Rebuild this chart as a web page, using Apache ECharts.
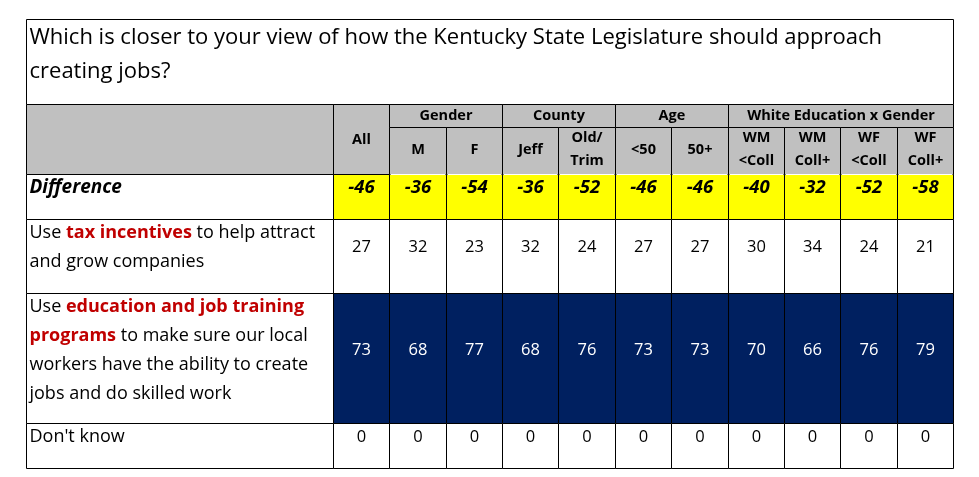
<!DOCTYPE html>
<html><head><meta charset="utf-8">
<script src="https://cdn.jsdelivr.net/npm/echarts@6/dist/echarts.min.js"></script>
<style>html,body{margin:0;padding:0;background:#fff}#c{width:979px;height:477px}</style>
</head><body><div id="c"></div>
<script>
// ---- data ----
const titleText = 'Which is closer to your view of how the Kentucky State Legislature should approach\ncreating jobs?';
const groups = ['Gender', 'County', 'Age', 'White Education x Gender'];
const groupSpans = [[1, 2], [3, 4], [5, 6], [7, 10]];
const columns = ['All', 'M', 'F', 'Jeff', 'Old/\nTrim', '<50', '50+', 'WM\n<Coll', 'WM\nColl+', 'WF\n<Coll', 'WF\nColl+'];
const rowLabels = [
  'Difference',
  'Use {r|tax incentives} to help attract\nand grow companies',
  'Use {r|education and job training}\n{r|programs} to make sure our local\nworkers have the ability to create\njobs and do skilled work',
  "Don't know"
];
const difference = [-46, -36, -54, -36, -52, -46, -46, -40, -32, -52, -58];
const taxIncentives = [27, 32, 23, 32, 24, 27, 27, 30, 34, 24, 21];
const educationTraining = [73, 68, 77, 68, 76, 73, 73, 70, 66, 76, 79];
const dontKnow = [0, 0, 0, 0, 0, 0, 0, 0, 0, 0, 0];

// ---- layout ----
const FONT = 'Open Sans';
const labelColUnits = 5.447;           // width of label column in data-column units
const rowHeights = [85, 23, 47, 45, 74, 130, 45];
const edges = [0]; rowHeights.forEach(h => edges.push(edges[edges.length - 1] + h));
const nCols = columns.length;
const LINE = 29;
const LABEL_SIZE = 18;

const bodyRows = [
  {label: rowLabels[0], values: difference, fill: '#FFFF00', color: '#000', bold: true, italic: true, lines: 1, size: 19, valueSize: 18.5},
  {label: rowLabels[1], values: taxIncentives, fill: '#FFFFFF', color: '#000', lines: 2},
  {label: rowLabels[2], values: educationTraining, fill: '#002060', color: '#FFFFFF', lines: 4},
  {label: rowLabels[3], values: dontKnow, fill: '#FFFFFF', color: '#000', lines: 1}
];

const cells = [];
cells.push({v: [-labelColUnits, edges[0], nCols, edges[1]], fill: '#fff', text: titleText, kind: 'title'});
cells.push({v: [-labelColUnits, edges[1], 0, edges[3]], fill: '#C0C0C0', text: ''});
cells.push({v: [0, edges[1], 1, edges[3]], fill: '#C0C0C0', text: columns[0], kind: 'head'});
groups.forEach((g, i) => {
  cells.push({v: [groupSpans[i][0], edges[1], groupSpans[i][1] + 1, edges[2]], fill: '#C0C0C0', text: g, kind: 'head'});
});
for (let c = 1; c < nCols; c++) {
  cells.push({v: [c, edges[2], c + 1, edges[3]], fill: '#C0C0C0', text: columns[c], kind: 'sub'});
}
bodyRows.forEach((r, i) => {
  const y0 = edges[3 + i], y1 = edges[4 + i];
  cells.push({v: [-labelColUnits, y0, 0, y1], fill: '#fff', text: r.label, kind: 'label', row: r});
  r.values.forEach((val, c) => {
    cells.push({v: [c, y0, c + 1, y1], fill: r.fill, text: String(val), kind: 'value', row: r});
  });
});

function renderItem(params, api) {
  const cell = cells[params.dataIndex];
  const p0 = api.coord([api.value(0), api.value(1)]);
  const p1 = api.coord([api.value(2), api.value(3)]);
  const x = Math.round(p0[0]) + 0.5, y = Math.round(p0[1]) + 0.5;
  const w = Math.round(p1[0]) - Math.round(p0[0]), h = Math.round(p1[1]) - Math.round(p0[1]);
  const children = [{
    type: 'rect', shape: {x, y, width: w, height: h},
    style: {fill: cell.fill, stroke: '#000', lineWidth: 1}
  }];
  let ts = null;
  if (cell.kind === 'title') {
    ts = {text: cell.text, x: x + 3, y: y + 1, align: 'left', verticalAlign: 'top',
      fontSize: 22, fontFamily: FONT, fill: '#000', lineHeight: 34};
  } else if (cell.kind === 'head') {
    ts = {text: cell.text, x: x + w / 2, y: y + (cell.text === 'All' ? 35 : 11.5), align: 'center', verticalAlign: 'middle',
      fontSize: 14.5, fontWeight: 'bold', fontFamily: FONT, fill: '#000', lineHeight: 23};
  } else if (cell.kind === 'sub') {
    ts = {text: cell.text, x: x + w / 2, y: y + 22, align: 'center', verticalAlign: 'middle',
      fontSize: 14.5, fontWeight: 'bold', fontFamily: FONT, fill: '#000', lineHeight: 23};
    children.push({type: 'line', z2: 50, shape: {x1: x + 1, y1: y + h, x2: x + w - 1, y2: y + h},
      style: {stroke: '#FFFFFF', lineWidth: 1}});
  } else if (cell.kind === 'label') {
    const r = cell.row;
    const fs = r.size || LABEL_SIZE;
    ts = {text: cell.text, x: x + 3, y: y - 1, align: 'left', verticalAlign: 'top',
      fontSize: fs, fontFamily: FONT, fill: '#000', lineHeight: LINE,
      fontWeight: r.bold ? 'bold' : 'normal', fontStyle: r.italic ? 'italic' : 'normal',
      rich: {r: {fontSize: fs, fontFamily: FONT, fontWeight: 'bold', fill: '#C00000', color: '#C00000', lineHeight: LINE}}};
  } else if (cell.kind === 'value') {
    const r = cell.row;
    ts = {text: cell.text, x: x + w / 2, y: y + 13.5 + (r.lines - 1) * LINE / 2, align: 'center', verticalAlign: 'middle',
      fontSize: r.valueSize || 16.5, fontFamily: FONT, fill: r.color,
      fontWeight: r.bold ? 'bold' : 'normal', fontStyle: r.italic ? 'italic' : 'normal'};
  }
  if (ts && ts.text) children.push({type: 'text', style: ts});
  return {type: 'group', children};
}

const chart = echarts.init(document.getElementById('c'));
chart.setOption({
  animation: false,
  grid: {left: 26, right: 26, top: 19, bottom: 9},
  xAxis: {type: 'value', min: -labelColUnits, max: nCols, show: false},
  yAxis: {type: 'value', min: 0, max: edges[edges.length - 1], inverse: true, show: false},
  series: [{
    type: 'custom', renderItem, clip: false,
    encode: {x: [0, 2], y: [1, 3]},
    data: cells.map(c => c.v)
  }]
});
</script></body></html>
